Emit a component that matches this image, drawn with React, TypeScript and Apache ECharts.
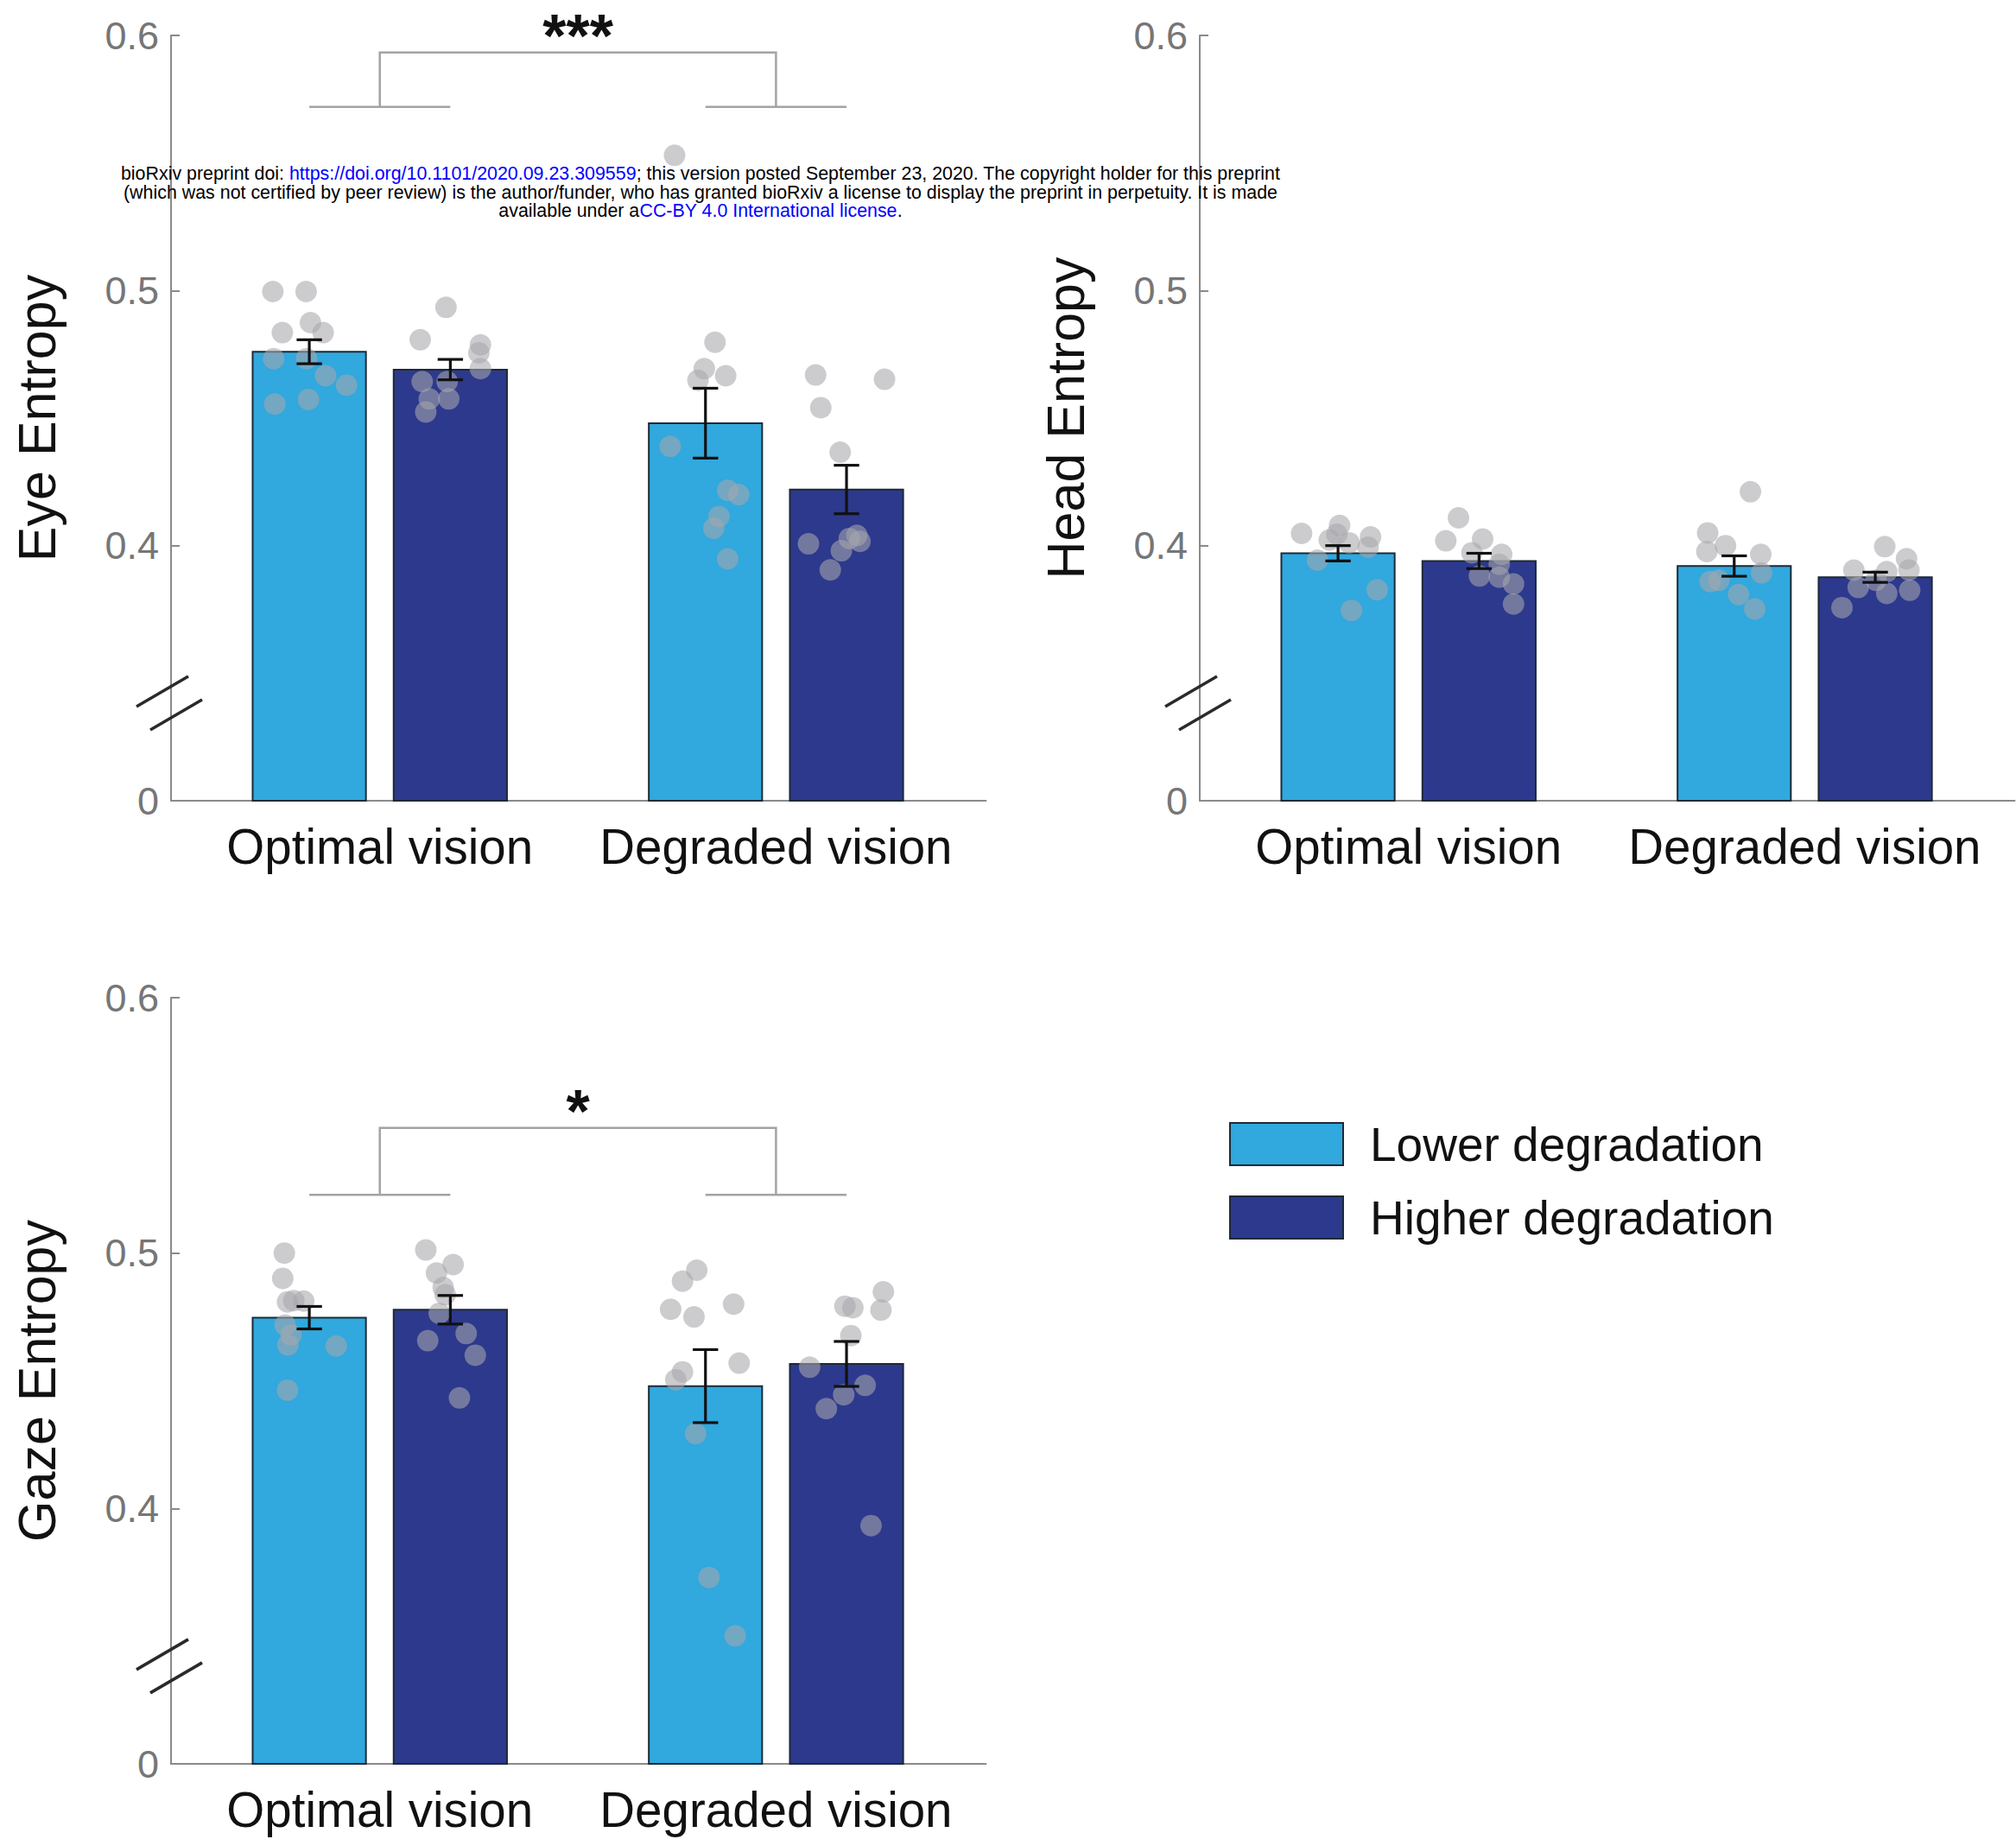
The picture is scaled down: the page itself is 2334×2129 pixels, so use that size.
import React, { useEffect, useRef } from 'react';
import * as echarts from 'echarts';

// ---------- data ----------
const categories = ['Optimal vision', 'Degraded vision'];
const legendNames = ['Lower degradation', 'Higher degradation'];
const panelTitles = ['Eye Entropy', 'Head Entropy', 'Gaze Entropy'];

// bar means: [Optimal, Degraded]
const eyeLowerMean = [0.476, 0.448];
const eyeHigherMean = [0.469, 0.422];
const eyeLowerSE = [0.0047, 0.0137];
const eyeHigherSE = [0.004, 0.0095];

const headLowerMean = [0.397, 0.392];
const headHigherMean = [0.394, 0.3876];
const headLowerSE = [0.003, 0.004];
const headHigherSE = [0.003, 0.002];

const gazeLowerMean = [0.4747, 0.4479];
const gazeHigherMean = [0.4778, 0.4566];
const gazeLowerSE = [0.0044, 0.0143];
const gazeHigherSE = [0.0056, 0.0088];

// individual subjects: [horizontal jitter, value]
const eyeOptimalLower = [[-0.092, 0.4996], [-0.008, 0.4996], [0.003, 0.4874], [-0.068, 0.4835], [0.035, 0.4835], [-0.09, 0.4733], [-0.007, 0.4733], [0.041, 0.4666], [0.094, 0.4629], [-0.087, 0.4555], [-0.002, 0.4573]];
const eyeOptimalHigher = [[-0.011, 0.4934], [-0.076, 0.4807], [0.076, 0.4787], [0.072, 0.4756], [0.076, 0.4694], [-0.071, 0.4643], [-0.008, 0.4643], [-0.053, 0.4575], [-0.004, 0.4575], [-0.062, 0.4524]];
const eyeDegradedLower = [[-0.078, 0.553], [0.024, 0.4797], [-0.003, 0.4694], [-0.019, 0.4648], [0.051, 0.4666], [-0.089, 0.4389], [0.056, 0.4217], [0.084, 0.42], [0.034, 0.4114], [0.021, 0.4068], [0.056, 0.3948]];
const eyeDegradedHigher = [[-0.078, 0.4669], [0.096, 0.4652], [-0.065, 0.4541], [-0.016, 0.4366], [-0.096, 0.4007], [0.026, 0.404], [0.034, 0.4017], [0.007, 0.4028], [-0.013, 0.398], [-0.041, 0.3905]];

const headOptimalLower = [[-0.092, 0.4048], [0.004, 0.4079], [-0.003, 0.4045], [-0.022, 0.4022], [0.028, 0.4011], [0.082, 0.4034], [0.076, 0.3994], [-0.052, 0.3943], [0.099, 0.3827], [0.034, 0.3746]];
const headOptimalHigher = [[-0.052, 0.4109], [-0.084, 0.4019], [0.009, 0.4026], [-0.018, 0.3972], [0.057, 0.3966], [0.001, 0.3881], [0.051, 0.3876], [0.087, 0.385], [0.087, 0.3771], [0.051, 0.3927]];
const headDegradedLower = [[0.041, 0.4211], [-0.067, 0.405], [-0.022, 0.4], [-0.069, 0.3977], [0.067, 0.3966], [0.069, 0.3893], [-0.061, 0.3859], [-0.039, 0.3864], [0.011, 0.3808], [0.052, 0.3752]];
const headDegradedHigher = [[0.024, 0.3996], [0.079, 0.3949], [-0.054, 0.3904], [0.029, 0.3898], [0.085, 0.3904], [-0.043, 0.3836], [0.029, 0.3813], [0.087, 0.3825], [-0.084, 0.3757], [0.002, 0.3864]];

const gazeOptimalLower = [[-0.063, 0.5], [-0.067, 0.4901], [-0.055, 0.4809], [-0.039, 0.4814], [-0.014, 0.4812], [-0.061, 0.4718], [-0.046, 0.4679], [-0.054, 0.464], [0.068, 0.4636], [-0.055, 0.4463]];
const gazeOptimalHigher = [[-0.062, 0.5012], [0.007, 0.4955], [-0.035, 0.4922], [-0.018, 0.4865], [-0.013, 0.4837], [-0.028, 0.4764], [0.04, 0.4685], [-0.057, 0.4657], [0.063, 0.46], [0.023, 0.4433]];
const gazeDegradedLower = [[-0.022, 0.4933], [-0.058, 0.489], [0.071, 0.48], [-0.088, 0.478], [-0.029, 0.475], [0.085, 0.4569], [-0.058, 0.4535], [-0.075, 0.4504], [-0.025, 0.4293], [0.009, 0.373], [0.075, 0.3501]];
const gazeDegradedHigher = [[0.093, 0.4848], [-0.004, 0.4792], [0.016, 0.4786], [0.087, 0.4777], [0.011, 0.4677], [-0.093, 0.4553], [0.047, 0.4482], [-0.007, 0.4445], [-0.051, 0.4391], [0.062, 0.3933]];

// significance brackets: [lower level, upper level]
const eyeBracket = [0.572, 0.5933];
const eyeStars = '***';
const gazeBracket = [0.5228, 0.549];
const gazeStars = '*';

// axis
const yMin = 0.3; // drawn as "0" (broken axis)
const yMax = 0.6;
const yInterval = 0.1;
const axisBreakValue = 0.3386;

// ---------- styling / layout ----------
const FONT = '"Liberation Sans", Arial, Helvetica, sans-serif';
const LIGHT = '#31A8DE';
const DARK = '#2D398D';
const BAR_BORDER = '#1d2a36';
const AXIS_GREY = '#8a8a8a';
const DOT = 'rgba(166,166,171,0.72)';
const X_MIN = -0.527;
const X_MAX = 1.53;
const OFF = 0.178;
const BAR_W = 0.286;
const CAP = 0.032;

const GRIDS = [
  { left: 198, top: 41, width: 943.5, height: 886 },
  { left: 1389, top: 41, width: 943.5, height: 886 },
  { left: 198, top: 1155, width: 943.5, height: 887 },
];

const panels = [
  {
    title: panelTitles[0], lowerMean: eyeLowerMean, higherMean: eyeHigherMean, lowerSE: eyeLowerSE, higherSE: eyeHigherSE,
    dots: [eyeOptimalLower, eyeOptimalHigher, eyeDegradedLower, eyeDegradedHigher], bracket: eyeBracket, stars: eyeStars,
  },
  {
    title: panelTitles[1], lowerMean: headLowerMean, higherMean: headHigherMean, lowerSE: headLowerSE, higherSE: headHigherSE,
    dots: [headOptimalLower, headOptimalHigher, headDegradedLower, headDegradedHigher], bracket: null as number[] | null, stars: '',
  },
  {
    title: panelTitles[2], lowerMean: gazeLowerMean, higherMean: gazeHigherMean, lowerSE: gazeLowerSE, higherSE: gazeHigherSE,
    dots: [gazeOptimalLower, gazeOptimalHigher, gazeDegradedLower, gazeDegradedHigher], bracket: gazeBracket, stars: gazeStars,
  },
];

function barRender(offset: number, color: string) {
  return (params: any, api: any) => {
    const g = api.value(0);
    const m = api.value(1);
    const x = g + offset;
    const p1 = api.coord([x - BAR_W / 2, m]);
    const p2 = api.coord([x + BAR_W / 2, yMin]);
    return {
      type: 'rect',
      shape: { x: p1[0], y: p1[1], width: p2[0] - p1[0], height: p2[1] - p1[1] },
      style: { fill: color, stroke: BAR_BORDER, lineWidth: 2 },
    };
  };
}

function errorRender(params: any, api: any) {
  const x = api.value(0);
  const m = api.value(1);
  const se = api.value(2);
  const top = api.coord([x, m + se]);
  const bot = api.coord([x, m - se]);
  const tl = api.coord([x - CAP, m + se]);
  const tr = api.coord([x + CAP, m + se]);
  const bl = api.coord([x - CAP, m - se]);
  const br = api.coord([x + CAP, m - se]);
  const st = { stroke: '#111', lineWidth: 3.2 };
  return {
    type: 'group',
    children: [
      { type: 'line', shape: { x1: top[0], y1: top[1], x2: bot[0], y2: bot[1] }, style: st },
      { type: 'line', shape: { x1: tl[0], y1: tl[1], x2: tr[0], y2: tr[1] }, style: st },
      { type: 'line', shape: { x1: bl[0], y1: bl[1], x2: br[0], y2: br[1] }, style: st },
    ],
  };
}

function bracketRender(stars: string) {
  return (params: any, api: any) => {
    const low = api.value(0);
    const top = api.value(1);
    const a1 = api.coord([0 - OFF, low]);
    const a2 = api.coord([0 + OFF, low]);
    const b1 = api.coord([1 - OFF, low]);
    const b2 = api.coord([1 + OFF, low]);
    const v1 = api.coord([0, low]);
    const v1t = api.coord([0, top]);
    const v2t = api.coord([1, top]);
    const v2 = api.coord([1, low]);
    const st = { stroke: '#a3a3a3', lineWidth: 2.5, fill: 'none' };
    return {
      type: 'group',
      children: [
        { type: 'line', shape: { x1: a1[0], y1: a1[1], x2: a2[0], y2: a2[1] }, style: st },
        { type: 'line', shape: { x1: b1[0], y1: b1[1], x2: b2[0], y2: b2[1] }, style: st },
        { type: 'polyline', shape: { points: [v1, v1t, v2t, v2] }, style: st },
        {
          type: 'text',
          x: (v1t[0] + v2t[0]) / 2,
          y: v1t[1] - 19,
          style: {
            text: stars, fontSize: 70, fontWeight: 'bold', fontFamily: FONT,
            fill: '#111', align: 'center', verticalAlign: 'middle',
          },
        },
      ],
    };
  };
}

function breakRender(params: any, api: any) {
  const p = api.coord([api.value(0), api.value(1)]);
  const st = { stroke: '#2a2a2a', lineWidth: 3.5 };
  return {
    type: 'group',
    children: [
      { type: 'line', shape: { x1: p[0] - 40, y1: p[1] + 5, x2: p[0] + 20, y2: p[1] - 30 }, style: st },
      { type: 'line', shape: { x1: p[0] - 24, y1: p[1] + 32, x2: p[0] + 36, y2: p[1] - 3 }, style: st },
    ],
  };
}

function buildOption() {
  const grid: any[] = [];
  const xAxis: any[] = [];
  const yAxis: any[] = [];
  const series: any[] = [];

  panels.forEach((p, i) => {
    grid.push({ ...GRIDS[i], containLabel: false });
    xAxis.push({
      type: 'value',
      gridIndex: i,
      min: X_MIN,
      max: X_MAX,
      axisLine: { show: true, onZero: false, lineStyle: { color: AXIS_GREY, width: 2 } },
      axisTick: { show: false },
      splitLine: { show: false },
      axisLabel: {
        customValues: [0, 1],
        formatter: (v: number) => categories[Math.round(v)] ?? '',
        fontSize: 56.5,
        fontFamily: FONT,
        color: '#111',
        margin: 25,
      },
    });
    yAxis.push({
      type: 'value',
      gridIndex: i,
      min: yMin,
      max: yMax,
      interval: yInterval,
      name: p.title,
      nameLocation: 'middle',
      nameGap: 125,
      nameTextStyle: { fontSize: 61, fontFamily: FONT, color: '#111' },
      axisLine: { show: true, onZero: false, lineStyle: { color: AXIS_GREY, width: 2 } },
      axisTick: { show: true, inside: true, length: 10, lineStyle: { color: AXIS_GREY, width: 2 } },
      splitLine: { show: false },
      axisLabel: {
        fontSize: 45,
        fontFamily: FONT,
        color: '#767676',
        margin: 14,
        formatter: (v: number) => (Math.abs(v - yMin) < 1e-6 ? '0' : v.toFixed(1)),
      },
    });

    series.push({
      type: 'custom',
      name: legendNames[0],
      xAxisIndex: i,
      yAxisIndex: i,
      z: 2,
      silent: true,
      itemStyle: { color: LIGHT, borderColor: BAR_BORDER, borderWidth: 2 },
      data: p.lowerMean.map((m, g) => [g, m]),
      renderItem: barRender(-OFF, LIGHT),
    });
    series.push({
      type: 'custom',
      name: legendNames[1],
      xAxisIndex: i,
      yAxisIndex: i,
      z: 2,
      silent: true,
      itemStyle: { color: DARK, borderColor: BAR_BORDER, borderWidth: 2 },
      data: p.higherMean.map((m, g) => [g, m]),
      renderItem: barRender(OFF, DARK),
    });

    const dotData: number[][] = [];
    p.dots.forEach((arr, b) => {
      const g = b < 2 ? 0 : 1;
      const off = b % 2 === 0 ? -OFF : OFF;
      arr.forEach(([j, v]) => dotData.push([g + off + j, v]));
    });
    series.push({
      type: 'scatter',
      name: 'Participants',
      xAxisIndex: i,
      yAxisIndex: i,
      z: 3,
      silent: true,
      symbolSize: 25,
      itemStyle: { color: DOT },
      data: dotData,
    });

    const errData: number[][] = [];
    [0, 1].forEach((g) => {
      errData.push([g - OFF, p.lowerMean[g], p.lowerSE[g]]);
      errData.push([g + OFF, p.higherMean[g], p.higherSE[g]]);
    });
    series.push({
      type: 'custom',
      name: 'SEM',
      xAxisIndex: i,
      yAxisIndex: i,
      z: 4,
      silent: true,
      data: errData,
      renderItem: errorRender,
    });

    if (p.bracket) {
      series.push({
        type: 'custom',
        name: 'Significance',
        xAxisIndex: i,
        yAxisIndex: i,
        z: 4,
        silent: true,
        data: [[p.bracket[0], p.bracket[1]]],
        renderItem: bracketRender(p.stars),
      });
    }

    series.push({
      type: 'custom',
      name: 'Axis break',
      xAxisIndex: i,
      yAxisIndex: i,
      z: 5,
      silent: true,
      data: [[X_MIN, axisBreakValue]],
      renderItem: breakRender,
    });
  });

  const wmBase = { fontSize: 21.4, fontFamily: FONT };
  const wmRich = {
    k: { ...wmBase, fill: '#000' },
    b: { ...wmBase, fill: '#0000ff' },
  };
  const watermarkLines = [
    '{k|bioRxiv preprint doi: }{b|https://doi.org/10.1101/2020.09.23.309559}{k|; this version posted September 23, 2020. The copyright holder for this preprint}',
    '{k|(which was not certified by peer review) is the author/funder, who has granted bioRxiv a license to display the preprint in perpetuity. It is made}',
    '{k|available under a}{b|CC-BY 4.0 International license}{k|.}',
  ];
  const graphic = watermarkLines.map((t, k) => ({
    type: 'text',
    x: 811,
    y: 201 + k * 21.5,
    z: 10,
    silent: true,
    style: { text: t, rich: wmRich, ...wmBase, align: 'center', verticalAlign: 'middle' },
  }));

  return {
    animation: false,
    backgroundColor: '#ffffff',
    textStyle: { fontFamily: FONT },
    grid,
    xAxis,
    yAxis,
    series,
    graphic,
    legend: {
      data: legendNames,
      orient: 'vertical',
      left: 1418,
      top: 1292,
      icon: 'rect',
      itemWidth: 131,
      itemHeight: 49,
      itemGap: 30,
      selectedMode: false,
      itemStyle: { borderColor: BAR_BORDER, borderWidth: 2 },
      textStyle: { fontSize: 55, fontFamily: FONT, color: '#111', lineHeight: 49, padding: [0, 0, 0, 26] },
    },
  };
}

export default function App() {
  const ref = useRef<HTMLDivElement>(null);
  useEffect(() => {
    document.body.style.margin = '0';
    if (!ref.current) return;
    const chart = echarts.init(ref.current, null, { renderer: 'svg' });
    chart.setOption(buildOption() as any);
    return () => chart.dispose();
  }, []);
  return <div ref={ref} style={{ width: 2334, height: 2129, background: '#fff' }} />;
}
